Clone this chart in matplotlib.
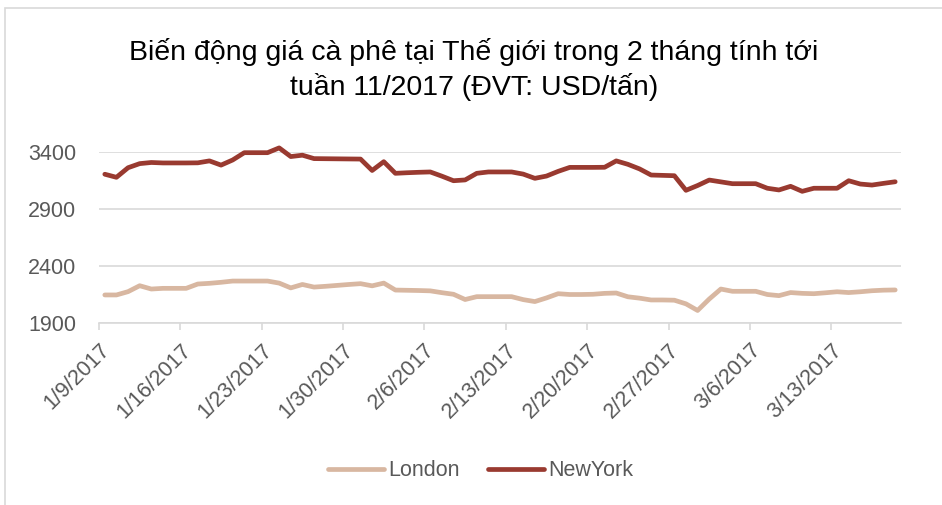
import pandas as pd
import matplotlib.pyplot as plt
import matplotlib.dates as mdates
from matplotlib.patches import Rectangle

plt.rcParams['font.family'] = ['Liberation Sans', 'DejaVu Sans']

# daily prices from 1/9/2017
dates = pd.date_range('2017-01-09', periods=69, freq='D')
london = [2146, 2146, 2175, 2227, 2198, 2204, 2204, 2204, 2242, 2248,
          2257, 2268, 2268, 2268, 2268, 2250, 2208, 2238, 2215, 2222,
          2230, 2238, 2245, 2226, 2250, 2189, 2187, 2185, 2182, 2166,
          2152, 2106, 2131, 2131, 2131, 2131, 2105, 2088, 2120, 2157,
          2150, 2150, 2152, 2160, 2163, 2130, 2118, 2102, 2102, 2100,
          2068, 2010, 2110, 2198, 2178, 2178, 2178, 2150, 2140, 2167,
          2160, 2157, 2165, 2174, 2167, 2174, 2183, 2188, 2190]
newyork = [3205, 3178, 3262, 3298, 3308, 3304, 3304, 3304, 3305, 3322,
           3285, 3330, 3394, 3394, 3394, 3436, 3360, 3372, 3342, 3341,
           3340, 3339, 3338, 3238, 3315, 3213, 3218, 3222, 3225, 3188,
           3148, 3155, 3213, 3225, 3225, 3225, 3206, 3169, 3189, 3230,
           3265, 3265, 3265, 3266, 3322, 3292, 3252, 3198, 3195, 3192,
           3064, 3106, 3154, 3138, 3122, 3122, 3122, 3082, 3067, 3099,
           3055, 3082, 3082, 3082, 3148, 3119, 3110, 3125, 3139]
tick_dates = pd.date_range('2017-01-09', '2017-03-13', freq='7D')
y_ticks = [1900, 2400, 2900, 3400]

title = 'Biến động giá cà phê tại Thế giới trong 2 tháng tính tới\ntuần 11/2017 (ĐVT: USD/tấn)'

grid_col = '#D9D9D9'
text_col = '#595959'

fig = plt.figure(figsize=(9.42, 5.05), dpi=100)
ax = fig.add_axes([99 / 942, 1 - 323 / 505, 802 / 942, 171 / 505])

# points sit in the middle of each day, as on an Excel date axis
x = dates + pd.Timedelta(hours=12)
ax.plot(x, london, color='#D8B7A1', lw=3.4, solid_capstyle='round',
        solid_joinstyle='round', clip_on=False, label='London')
ax.plot(x, newyork, color='#993A30', lw=3.4, solid_capstyle='round',
        solid_joinstyle='round', clip_on=False, label='NewYork')

ax.set_xlim(dates[0], dates[-1] + pd.Timedelta(days=1))
ax.set_ylim(1900, 3400)
ax.set_yticks(y_ticks)
ax.set_xticks(tick_dates)
ax.xaxis.set_major_formatter(mdates.DateFormatter('%-m/%-d/%Y'))

ax.grid(axis='y', color=grid_col, lw=1.2)
ax.set_axisbelow(True)
for s in ['top', 'right', 'left']:
    ax.spines[s].set_visible(False)
ax.spines['bottom'].set_color(grid_col)
ax.spines['bottom'].set_linewidth(1.2)

ax.tick_params(axis='y', length=0, pad=16.5, labelsize=15.5, labelcolor=text_col)
ax.tick_params(axis='x', length=5, width=1.2, color=grid_col, pad=7,
               labelsize=15.5, labelcolor=text_col)
for lab in ax.get_xticklabels():
    lab.set_rotation(45)
    lab.set_ha('right')
    lab.set_va('top')
    lab.set_rotation_mode('anchor')

fig.text(0.503, 0.862, title, ha='center', va='center', fontsize=20.5,
         color='black', linespacing=1.33)

fig.legend(loc='center', bbox_to_anchor=(0.51, 0.068), ncol=2, frameon=False,
           fontsize=15.5, handlelength=2.6, columnspacing=1.3, handletextpad=0.2,
           labelcolor=text_col)

# chart border (only the top and left edges show in the crop)
fig.patches.append(Rectangle((5 / 942, -0.1), 1.2, 1 - 8 / 505 + 0.1,
                             transform=fig.transFigure, fill=False,
                             edgecolor=grid_col, lw=1.2))

fig.savefig('out.png', dpi=100)
